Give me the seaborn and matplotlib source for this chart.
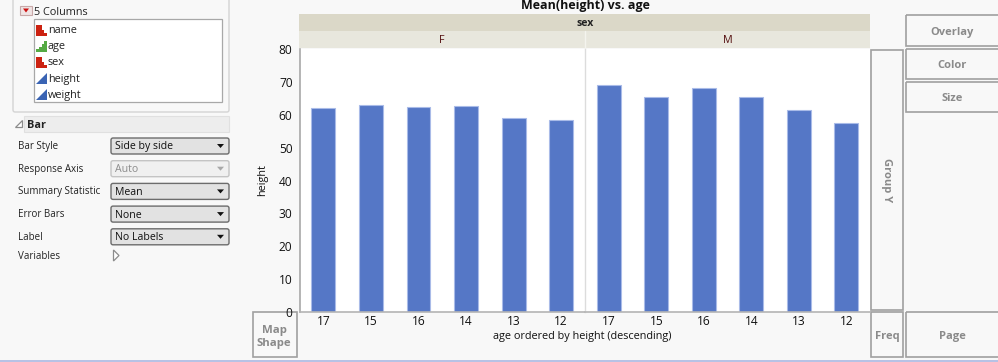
import matplotlib
matplotlib.use('Agg')
import matplotlib.pyplot as plt
from matplotlib.patches import Rectangle, FancyBboxPatch, Polygon
import pandas as pd
import seaborn as sns

# Values
ages = ['17', '15', '16', '14', '13', '12']
height_f = [62.0, 63.0, 62.5, 62.6, 59.0, 58.5]
height_m = [69.0, 65.3, 68.0, 65.3, 61.3, 57.4]
y_ticks = [0, 10, 20, 30, 40, 50, 60, 70, 80]
columns = ['name', 'age', 'sex', 'height', 'weight']
column_kinds = ['nominal', 'ordinal', 'nominal', 'cont', 'cont']
option_labels = ['Bar Style', 'Response Axis', 'Summary Statistic', 'Error Bars', 'Label']
option_values = ['Side by side', 'Auto', 'Mean', 'None', 'No Labels']

BG = '#f8f8f8'
BAR = '#5577c6'
W, H = 998, 362

sns.set_theme(style='white')
plt.rcParams['font.family'] = ['Open Sans', 'DejaVu Sans']
plt.rcParams['font.size'] = 8

fig = plt.figure(figsize=(W / 100, H / 100), dpi=100, facecolor=BG)

# pixel canvas for the surrounding window
ui = fig.add_axes([0, 0, 1, 1])
ui.set_xlim(0, W)
ui.set_ylim(H, 0)
ui.axis('off')


def box(x0, y0, x1, y1, fc='none', ec='#a0a0a0', lw=1.2, z=1):
    ui.add_patch(Rectangle((x0, y0), x1 - x0, y1 - y0, fc=fc, ec=ec, lw=lw, zorder=z))


def label(x, y, s, **kw):
    kw.setdefault('ha', 'left')
    kw.setdefault('va', 'center')
    kw.setdefault('fontsize', 8)
    kw.setdefault('color', '#222222')
    ui.text(x, y, s, **kw)


# column panel
ui.add_patch(FancyBboxPatch((13, -8), 216, 120, boxstyle='round,pad=0,rounding_size=2',
                            fc=BG, ec='#d4d4d4', lw=1))
box(20, 6, 32, 15, fc='#f0e4e4', ec='#c8a8a8', lw=0.8)
ui.add_patch(Polygon([(23, 8.5), (29, 8.5), (26, 12.5)], fc='#cc1111', ec='none'))
label(34, 12.5, '5 Columns', fontsize=7.8)
box(34, 19, 222, 102, fc='white', ec='#a8a8a8', lw=0.9)
for i, (name, kind) in enumerate(zip(columns, column_kinds)):
    yc = 30.5 + i * 16.2
    if kind == 'cont':
        ui.add_patch(Polygon([(36, yc + 5), (47, yc + 5), (47, yc - 6)], fc='#3a64b4', ec='none'))
    else:
        col = '#cc2211' if kind == 'nominal' else '#55aa44'
        hs = [11, 11, 6, 3] if kind == 'nominal' else [3, 5, 8, 11]
        for j, h_ in enumerate(hs):
            ui.add_patch(Rectangle((36 + j * 2.8, yc + 5 - h_), 2.8, h_, fc=col, ec='none'))
    label(48, yc, name, fontsize=7.8)

# bar options
ui.add_patch(Polygon([(15, 127), (22, 127), (22, 120)], fc='white', ec='#8c8c8c', lw=0.9))
box(24, 116, 229, 132, fc='#ededed', ec='#e0e0e0', lw=0.8)
label(27, 125.5, 'Bar', fontsize=7.8, fontweight='bold')
for i, (name, val) in enumerate(zip(option_labels, option_values)):
    yc = 146 + i * 22.7
    label(18, yc + 0.5, name, fontsize=7)
    off = val == 'Auto'
    ui.add_patch(FancyBboxPatch((111, yc - 8), 118, 16, boxstyle='round,pad=0,rounding_size=2',
                                fc='#f0f0f0' if off else '#e2e2e2', ec='#c4c4c4' if off else '#6c6c6c', lw=1))
    label(115, yc + 1, val, fontsize=7.6, color='#8c8c8c' if off else '#111111')
    ui.add_patch(Polygon([(217, yc - 2), (224, yc - 2), (220.5, yc + 2)],
                         fc='#a8a8a8' if off else '#111111', ec='none'))
label(18, 256.5, 'Variables', fontsize=7)
ui.add_patch(Polygon([(113.5, 250), (113.5, 261), (119, 255.5)], fc='white', ec='#8c8c8c', lw=0.9))

# title and strips
label(585, 5.5, 'Mean(height) vs. age', ha='center', fontsize=9, fontweight='bold', color='#111111')
box(299, 14, 870, 31, fc='#dbd8c8', ec='none', lw=0)
box(299, 31, 870, 48, fc='#e8e7dd', ec='none', lw=0)
ui.plot([585, 585], [31, 48], color='#f4f4ee', lw=1)
label(585, 24, 'sex', ha='center', fontsize=7.6, fontweight='bold')
label(442, 40.5, 'F', ha='center', fontsize=7.8, color='#551111')
label(728, 40.5, 'M', ha='center', fontsize=7.8, color='#551111')

# drop zones
grey = '#8a8a8a'
box(871, 50, 903, 310)
label(887, 180, 'Group Y', ha='center', rotation=270, fontsize=8, fontweight='bold', color=grey)
for name, y0, y1 in [('Overlay', 15, 46), ('Color', 49, 79), ('Size', 82, 112)]:
    box(906, y0, 1004, y1)
    label(952, (y0 + y1) / 2 + 1.5, name, ha='center', fontsize=8, fontweight='bold', color=grey)
box(871, 312, 903, 357)
label(887, 336.5, 'Freq', ha='center', fontsize=8, fontweight='bold', color=grey)
box(906, 312, 1004, 357)
label(952, 336.5, 'Page', ha='center', fontsize=8, fontweight='bold', color=grey)
box(253, 312, 297, 357)
label(274, 337, 'Map\nShape', ha='center', fontsize=8.2, fontweight='bold', color=grey, linespacing=1.3)
ui.plot([0, W], [360.5, 360.5], color='#aab8e2', lw=1.2)

# the two facets
PX0, PXM, PX1, PY0, PY1 = 299.5, 585, 870, 49, 312
ax_f = fig.add_axes([PX0 / W, 1 - PY1 / H, (PXM - PX0) / W, (PY1 - PY0) / H])
ax_m = fig.add_axes([PXM / W, 1 - PY1 / H, (PX1 - PXM) / W, (PY1 - PY0) / H])

for ax, vals in [(ax_f, height_f), (ax_m, height_m)]:
    df = pd.DataFrame({'age': ages, 'height': vals})
    sns.barplot(data=df, x='age', y='height', order=ages, color=BAR, width=0.5, saturation=1,
                edgecolor='#a9bbe8', linewidth=0.8, ax=ax)
    ax.set_xlim(-0.5, 5.5)
    ax.set_ylim(0, 80)
    ax.set_facecolor('white')
    ax.tick_params(axis='x', length=0, pad=2, labelsize=8.6, colors='#111111')
    ax.set_xlabel('')
    for s in ['top', 'right']:
        ax.spines[s].set_visible(False)
    ax.spines['bottom'].set_color('#b4b4b4')
    ax.spines['bottom'].set_linewidth(1.2)

ax_f.set_yticks(y_ticks)
ax_f.tick_params(axis='y', length=6, width=0.8, color='#a8a8a8', pad=-1, labelsize=8.6, labelcolor='#111111')
ax_f.set_ylabel('height', fontsize=7.8, labelpad=8, color='#111111')
ax_f.spines['left'].set_color('#a8a8a8')
ax_f.spines['left'].set_linewidth(1.2)

ax_m.set_ylabel('')
ax_m.set_yticks([])
ax_m.spines['left'].set_color('#dcdcdc')
ax_m.spines['left'].set_linewidth(1)

label(582, 336, 'age ordered by height (descending)', ha='center', fontsize=7.8, color='#111111')

fig.savefig('out.png', dpi=100, facecolor=BG)
